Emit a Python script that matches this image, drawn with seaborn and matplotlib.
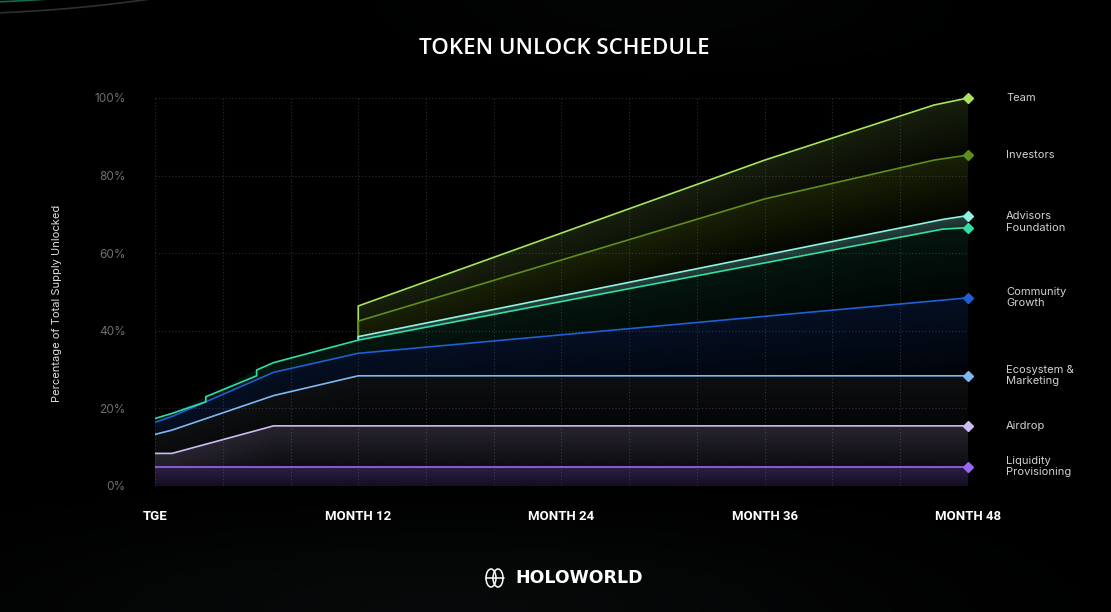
import numpy as np
import pandas as pd
import seaborn as sns
import matplotlib.pyplot as plt
from matplotlib.colors import to_rgb
from matplotlib.patches import PathPatch, Ellipse
from matplotlib.path import Path
from matplotlib.lines import Line2D

# unlock curves (month, % of total supply)
liq_m = [0, 48]
liq_v = [5.0, 5.0]
air_m = [0, 1, 7, 48]
air_v = [8.4, 8.4, 15.5, 15.5]
eco_m = [0, 1, 7, 12, 48]
eco_v = [13.3, 14.4, 23.3, 28.4, 28.4]
com_m = [0, 1, 7, 12, 48]
com_v = [16.4, 17.9, 29.3, 34.2, 48.5]
fnd_m = [0, 1, 3, 3, 6, 6, 7, 12, 46.5, 48]
fnd_v = [17.4, 18.7, 21.7, 23.0, 28.4, 29.9, 31.8, 37.6, 66.2, 66.6]
adv_m = [12, 12, 46.5, 48]
adv_v = [37.6, 38.5, 68.7, 69.7]
inv_m = [12, 12, 36, 46, 48]
inv_v = [37.6, 42.5, 74.0, 84.0, 85.3]
team_m = [12, 12, 36, 46, 48]
team_v = [37.6, 46.4, 84.0, 98.2, 100.0]

names = ["Liquidity\nProvisioning", "Airdrop", "Ecosystem &\nMarketing", "Community\nGrowth",
         "Team", "Investors", "Advisors", "Foundation"]
months = [liq_m, air_m, eco_m, com_m, team_m, inv_m, adv_m, fnd_m]
values = [liq_v, air_v, eco_v, com_v, team_v, inv_v, adv_v, fnd_v]
colors = ["#9a68f0", "#cbbcf3", "#7cb9f4", "#1f5fd3", "#a8e45c", "#5f8e1c", "#8ef3e2", "#2ee0a4"]

x_ticks = [0, 12, 24, 36, 48]
x_labels = ["TGE", "MONTH 12", "MONTH 24", "MONTH 36", "MONTH 48"]
y_ticks = [0, 20, 40, 60, 80, 100]

df = pd.concat([pd.DataFrame({"month": m, "pct": v, "series": n})
                for n, m, v in zip(names, months, values)], ignore_index=True)
palette = dict(zip(names, colors))

sns.set_theme(style="dark")
plt.rcParams["font.family"] = ["Inter", "DejaVu Sans"]

W, H = 1111, 612
fig = plt.figure(figsize=(W / 100, H / 100), dpi=100, facecolor="black")

# faint background glow near the bottom
bg = fig.add_axes([0, 0, 1, 1], zorder=-10)
gy, gx = np.mgrid[0:1:200j, 0:1:300j]
glow = 0.035 * np.exp(-((gx - 0.4) ** 2 / 0.15 + (gy - 0.0) ** 2 / 0.02)) \
    + 0.015 * np.exp(-((gx - 0.6) ** 2 / 0.05 + (gy - 1.0) ** 2 / 0.01))
img = np.dstack([glow * 0.8, glow * 1.0, glow * 1.05])
bg.imshow(np.clip(img, 0, 1), extent=[0, 1, 0, 1], origin="lower", aspect="auto")
bg.set_axis_off()

# corner arcs
t = np.linspace(-0.2, 0.2, 200)
for dy, c, a in [(13, "#888888", 0.35), (2, "#1fae86", 0.6)]:
    cx, cy, r = -60, -1471 - (13 - dy), 1485
    px = cx + r * np.sin(t)
    py = cy + r * np.cos(t)
    fig.add_artist(Line2D(px / W, 1 - py / H, color=c, alpha=a, lw=1.2))

ax = fig.add_axes([155 / W, 1 - 486 / H, (968 - 155) / W, (486 - 98) / H])
ax.set_facecolor("none")


def dedup(m, v):
    m = np.asarray(m, float)
    v = np.asarray(v, float)
    keep = np.r_[m[1:] != m[:-1], True]
    return m[keep], v[keep]


curve = {n: dedup(m, v) for n, m, v in zip(names, months, values)}
below = {"Liquidity\nProvisioning": None, "Airdrop": "Liquidity\nProvisioning",
         "Ecosystem &\nMarketing": "Airdrop", "Community\nGrowth": "Ecosystem &\nMarketing",
         "Foundation": "Community\nGrowth", "Advisors": "Foundation",
         "Investors": "Advisors", "Team": "Investors"}
band_style = {"Liquidity\nProvisioning": ("#9a68f0", 0.30, 0.14),
              "Airdrop": ("#c8b8f0", 0.20, 0.07),
              "Ecosystem &\nMarketing": ("#95a3bd", 0.10, 0.03),
              "Community\nGrowth": ("#1f5fd3", 0.17, 0.04),
              "Foundation": ("#2ee0a4", 0.10, 0.025),
              "Advisors": ("#8ef3e2", 0.28, 0.18),
              "Investors": ("#7fa51e", 0.20, 0.03),
              "Team": ("#a8e45c", 0.14, 0.04)}

for n, low in below.items():
    um, uv = curve[n]
    xs = np.linspace(um[0], um[-1], 400)
    up = np.interp(xs, um, uv)
    lo = np.zeros_like(xs) if low is None else np.interp(xs, *curve[low])
    col, a_top, a_bot = band_style[n]
    y0, y1 = lo.min(), up.max()
    ys = np.linspace(y0, y1, 300)
    depth = (up - lo).max()
    frac = np.clip((up[None, :] - ys[:, None]) / depth, 0, 1)
    rgba = np.zeros((len(ys), len(xs), 4))
    rgba[..., :3] = to_rgb(col)
    rgba[..., 3] = a_top - (a_top - a_bot) * frac
    verts = np.r_[np.c_[xs, up], np.c_[xs[::-1], lo[::-1]]]
    patch = PathPatch(Path(verts), transform=ax.transData, facecolor="none", edgecolor="none")
    ax.add_patch(patch)
    im = ax.imshow(rgba, extent=[xs[0], xs[-1], y0, y1], origin="lower",
                   aspect="auto", zorder=1, interpolation="bilinear")
    im.set_clip_path(patch)

sns.lineplot(data=df, x="month", y="pct", hue="series", palette=palette,
             estimator=None, sort=False, legend=False, lw=1.2, ax=ax, zorder=3)

for n, v, c in zip(names, values, colors):
    ax.plot(48, v[-1], marker="D", ms=5, color=c, clip_on=False, zorder=4)
    ax.annotate(n, xy=(48, v[-1]), xytext=(27.5, 0), textcoords="offset points",
                ha="left", va="center", fontsize=8, color="#d2d2d2", linespacing=1.15,
                annotation_clip=False)

ax.set_xlim(0, 48)
ax.set_ylim(0, 100)
ax.set_xticks(x_ticks, labels=x_labels)
ax.set_xticks(range(0, 49, 4), minor=True)
ax.set_yticks(y_ticks, labels=[f"{v}%" for v in y_ticks])
ax.tick_params(length=0, which="both")
ax.tick_params(axis="x", pad=17, labelsize=9.5, labelcolor="white")
ax.tick_params(axis="y", pad=21, labelsize=8.5, labelcolor="#707070")
for lab in ax.get_xticklabels():
    lab.set_fontfamily(["Roboto", "DejaVu Sans"])
    lab.set_fontweight("bold")
ax.grid(True, which="both", axis="x", color="#2c2c2c", ls=(0, (1, 2)), lw=0.8)
ax.grid(True, which="major", axis="y", color="#2c2c2c", ls=(0, (1, 2)), lw=0.8)
for s in ax.spines.values():
    s.set_visible(False)
ax.set_xlabel("")
ax.set_ylabel("")

fig.text(57 / W, 1 - 303 / H, "Percentage of Total Supply Unlocked", rotation=90,
         ha="center", va="center", fontsize=8, color="#e0e0e0")
fig.text(564 / W, 1 - 48 / H, "TOKEN UNLOCK SCHEDULE", ha="center", va="center",
         fontsize=16, color="white", fontfamily=["Open Sans", "DejaVu Sans"],
         fontweight="semibold")

# logo
lx, ly = 4.945, (H - 578) / 100
for dx in (-0.035, 0.035):
    fig.add_artist(Ellipse((lx + dx, ly), 0.1, 0.18, transform=fig.dpi_scale_trans,
                           fill=False, ec="white", lw=1.1))
fig.add_artist(Line2D([lx - 0.09, lx + 0.09], [ly, ly], transform=fig.dpi_scale_trans,
                      color="white", lw=1.1))
fig.text(515 / W, 1 - 578 / H, "HOLOWORLD", ha="left", va="center", fontsize=12.5,
         color="white", fontfamily=["DejaVu Sans"], fontweight="bold")

fig.savefig("out.png", dpi=100, facecolor="black")
